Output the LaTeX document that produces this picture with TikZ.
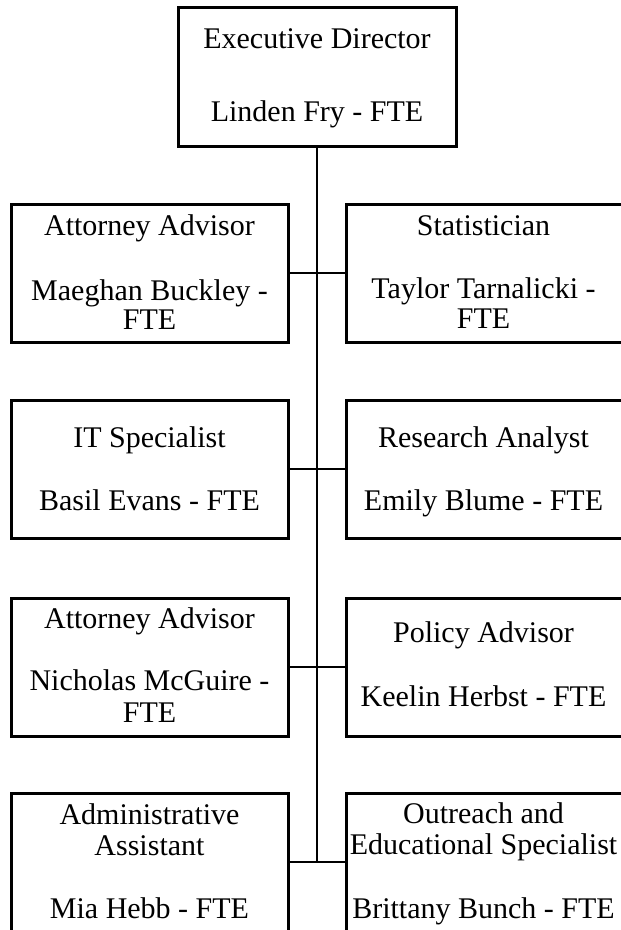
\documentclass[tikz,border=0pt]{standalone}
\usepackage{fontspec}
\setmainfont{Liberation Serif}
\begin{document}
\begin{tikzpicture}[x=1pt,y=-1pt,
  box/.style={draw=black,line width=3pt,rectangle,inner sep=0pt,fill=white},
  lbox/.style={box,minimum width=277pt,minimum height=138pt},
  rbox/.style={box,minimum width=282pt,minimum height=138pt},
  lbl/.style={anchor=base,inner sep=0pt,font=\fontsize{30}{30}\selectfont},
  conn/.style={draw=black,line width=2.8pt}]
\useasboundingbox (0,0) rectangle (621,930);
\clip (0,0) rectangle (621,930);
\node[box,minimum width=278pt,minimum height=139pt] (top) at (317,76.5) {};
\coordinate (j4) at (317,862);
\draw[conn] (top.south) -- (j4);
% boxes
\node[lbox] (l1) at (149.5,273) {};
\node[rbox] (r1) at (487,273) {};
\node[lbox] (l2) at (149.5,469) {};
\node[rbox] (r2) at (487,469) {};
\node[lbox] (l3) at (149.5,667) {};
\node[rbox] (r3) at (487,667) {};
\node[lbox] (l4) at (149.5,862) {};
\node[rbox] (r4) at (487,862) {};
\draw[conn] (l1.east) -- (r1.west);
\draw[conn] (l2.east) -- (r2.west);
\draw[conn] (l3.east) -- (r3.west);
\draw[conn] (l4.east) -- (r4.west);
% texts
\node[lbl] (t0a) at (317,48) {Executive Director};
\node[lbl] (t0b) at (317,121) {Linden Fry - FTE};
\node[lbl] (t1a) at (149.5,235) {Attorney Advisor};
\node[lbl] (t1b) at (149.5,300) {Maeghan Buckley -};
\node[lbl] (t1c) at (149.5,329) {FTE};
\node[lbl] (t2a) at (483.5,235) {Statistician};
\node[lbl] (t2b) at (483.5,298) {Taylor Tarnalicki -};
\node[lbl] (t2c) at (483.5,328) {FTE};
\node[lbl] (t3a) at (149.5,447) {IT Specialist};
\node[lbl] (t3b) at (149.5,510) {Basil Evans - FTE};
\node[lbl] (t4a) at (483.5,447) {Research Analyst};
\node[lbl] (t4b) at (483.5,510) {Emily Blume - FTE};
\node[lbl] (t5a) at (149.5,628) {Attorney Advisor};
\node[lbl] (t5b) at (149.5,690) {Nicholas McGuire -};
\node[lbl] (t5c) at (149.5,722) {FTE};
\node[lbl] (t6a) at (483.5,642) {Policy Advisor};
\node[lbl] (t6b) at (483.5,706) {Keelin Herbst - FTE};
\node[lbl] (t7a) at (149.5,824) {Administrative};
\node[lbl] (t7b) at (149.5,855) {Assistant};
\node[lbl] (t7c) at (149.5,918) {Mia Hebb - FTE};
\node[lbl] (t8a) at (483.5,823) {Outreach and};
\node[lbl] (t8b) at (483.5,854) {Educational Specialist};
\node[lbl] (t8c) at (483.5,918) {Brittany Bunch - FTE};
\end{tikzpicture}
\end{document}
